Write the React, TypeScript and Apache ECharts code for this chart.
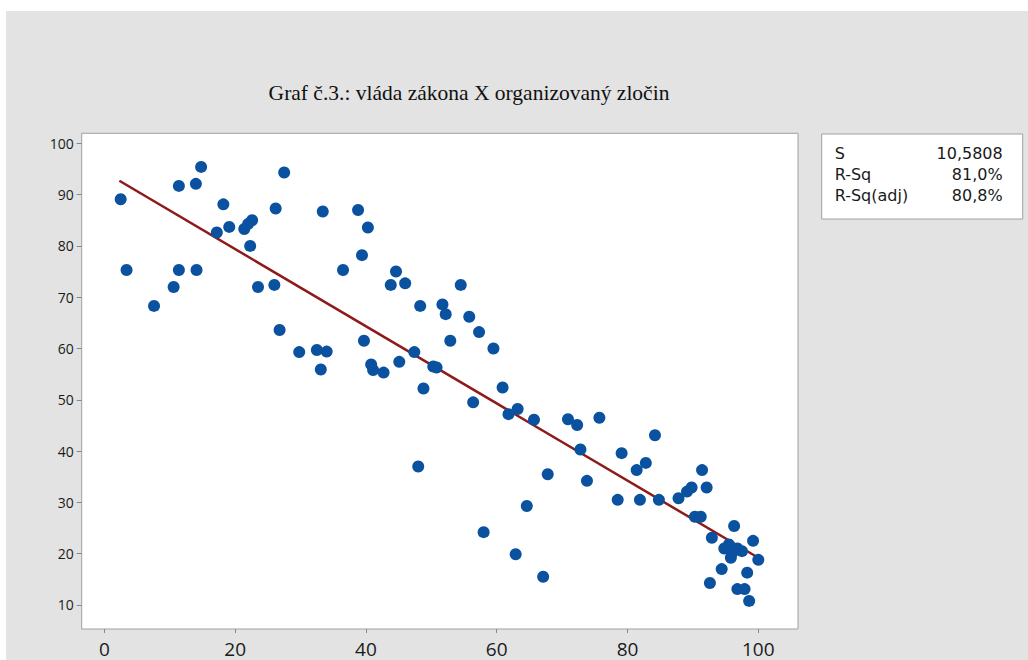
import React, { useEffect, useRef } from "react";
import * as echarts from "echarts";

const titleText = "Graf č.3.: vláda zákona X organizovaný zločin";

const xTicks = [0, 20, 40, 60, 80, 100];
const yTicks = [10, 20, 30, 40, 50, 60, 70, 80, 90, 100];

const pointsX = [
  2.5, 3.4, 7.6, 10.6, 11.4, 11.4, 14.0, 14.1, 14.8, 17.2, 18.2, 19.1, 21.4, 22.0, 22.6, 22.3,
  23.5, 26.0, 26.2, 27.5, 26.8, 29.8, 32.5, 34.0, 33.1, 33.4, 38.8, 40.3, 39.4, 36.5, 44.6, 43.8,
  46.0, 54.5, 48.3, 51.7, 52.2, 55.8, 57.3, 59.5, 52.9, 39.7, 47.4, 45.1, 40.8, 41.1, 42.7, 50.3,
  50.8, 48.8, 56.4, 60.9, 61.8, 63.2, 65.7, 48.0, 67.8, 64.6, 58.0, 62.9, 67.1, 70.9, 72.3, 75.7,
  72.8, 73.8, 78.5, 79.1, 81.4, 82.8, 81.9, 84.2, 84.8, 87.8, 89.1, 89.8, 91.4, 92.1, 90.3, 91.2,
  92.9, 96.3, 99.2, 100.0, 94.8, 95.5, 96.0, 96.8, 97.5, 95.8, 94.4, 98.3, 92.6, 96.8, 97.9, 98.6,
];
const pointsY = [
  89.1, 75.3, 68.3, 72.0, 75.3, 91.7, 92.1, 75.3, 95.4, 82.6, 88.1, 83.7, 83.3, 84.3, 85.0, 80.0,
  72.0, 72.4, 87.3, 94.3, 63.6, 59.3, 59.7, 59.4, 55.9, 86.7, 87.0, 83.6, 78.2, 75.3, 75.0, 72.4,
  72.7, 72.4, 68.3, 68.6, 66.7, 66.2, 63.2, 60.0, 61.5, 61.5, 59.3, 57.4, 56.9, 55.8, 55.3, 56.5,
  56.3, 52.2, 49.5, 52.4, 47.2, 48.2, 46.1, 37.0, 35.5, 29.3, 24.2, 19.9, 15.5, 46.2, 45.1, 46.5,
  40.3, 34.2, 30.5, 39.6, 36.3, 37.7, 30.5, 43.1, 30.5, 30.8, 32.1, 32.9, 36.3, 32.9, 27.2, 27.2,
  23.1, 25.4, 22.5, 18.8, 21.0, 21.8, 20.2, 21.0, 20.5, 19.2, 17.0, 16.3, 14.3, 13.1, 13.1, 10.8,
];

const fitX = [2.3, 100];
const fitY = [92.7, 19.2];

const statLabels = ["S", "R-Sq", "R-Sq(adj)"];
const statValues = ["10,5808", "81,0%", "80,8%"];

export default function App() {
  const ref = useRef<HTMLDivElement>(null);
  useEffect(() => {
    if (!ref.current) return;
    const chart = echarts.init(ref.current, null, { renderer: "svg" });
    const scatterData = pointsX.map((x, i) => [x, pointsY[i]]);
    const lineData = fitX.map((x, i) => [x, fitY[i]]);
    const sans = "'Open Sans', 'Noto Sans', sans-serif";
    const legendFont = "16px 'DejaVu Sans', sans-serif";
    const legendChildren: any[] = [
      {
        type: "rect",
        shape: { x: 0, y: 0, width: 201, height: 85 },
        style: { fill: "#ffffff", stroke: "#a0a0a0", lineWidth: 1 },
      },
    ];
    const rowsY = [19, 40, 61];
    statLabels.forEach((s, i) => {
      legendChildren.push({
        type: "text",
        x: 13,
        y: rowsY[i],
        style: { text: s, fill: "#1a1a1a", font: legendFont, textAlign: "left", textVerticalAlign: "middle" },
      });
      legendChildren.push({
        type: "text",
        x: 181,
        y: rowsY[i],
        style: { text: statValues[i], fill: "#1a1a1a", font: legendFont, textAlign: "right", textVerticalAlign: "middle" },
      });
    });
    chart.setOption({
      animation: false,
      backgroundColor: "transparent",
      title: {
        text: titleText,
        left: 464,
        top: 77,
        textAlign: "center",
        textStyle: { fontFamily: "'Liberation Serif', 'DejaVu Serif', serif", fontSize: 21.5, fontWeight: "normal", color: "#111" },
      },
      grid: {
        left: 81.7,
        top: 133.3,
        right: 230,
        bottom: 31,
        show: true,
        backgroundColor: "#ffffff",
        borderColor: "#a0a0a0",
        borderWidth: 1,
      },
      xAxis: {
        type: "value",
        min: -3.46,
        max: 106.07,
        axisLine: { show: false, onZero: false },
        splitLine: { show: false },
        axisTick: { show: true, customValues: xTicks, length: 4, lineStyle: { color: "#888" } },
        axisLabel: { customValues: xTicks, fontSize: 19, fontFamily: sans, color: "#1a1a1a", margin: 10 },
      },
      yAxis: {
        type: "value",
        min: 5.32,
        max: 101.95,
        axisLine: { show: false, onZero: false },
        splitLine: { show: false },
        axisTick: { show: true, customValues: yTicks, length: 5, lineStyle: { color: "#888" } },
        axisLabel: { customValues: yTicks, fontSize: 14, fontFamily: sans, color: "#1a1a1a", margin: 8 },
      },
      series: [
        {
          type: "line",
          data: lineData,
          symbol: "none",
          lineStyle: { color: "#8e1a1a", width: 2.5 },
          z: 2,
        },
        {
          type: "scatter",
          data: scatterData,
          symbol: "circle",
          symbolSize: 12,
          itemStyle: { color: "#0a52a0", opacity: 1 },
          z: 3,
        },
      ],
      graphic: [
        {
          type: "group",
          x: 821.7,
          y: 134,
          children: legendChildren,
        },
      ],
    });
    return () => chart.dispose();
  }, []);
  return (
    <div style={{ position: "fixed", left: 0, top: 0, width: 1028, height: 660, background: "#ffffff" }}>
      <div style={{ position: "absolute", left: 6, top: 11, right: 0, bottom: 0, background: "#e3e3e3" }} />
      <div ref={ref} style={{ position: "absolute", left: 0, top: 0, width: 1028, height: 660 }} />
    </div>
  );
}
